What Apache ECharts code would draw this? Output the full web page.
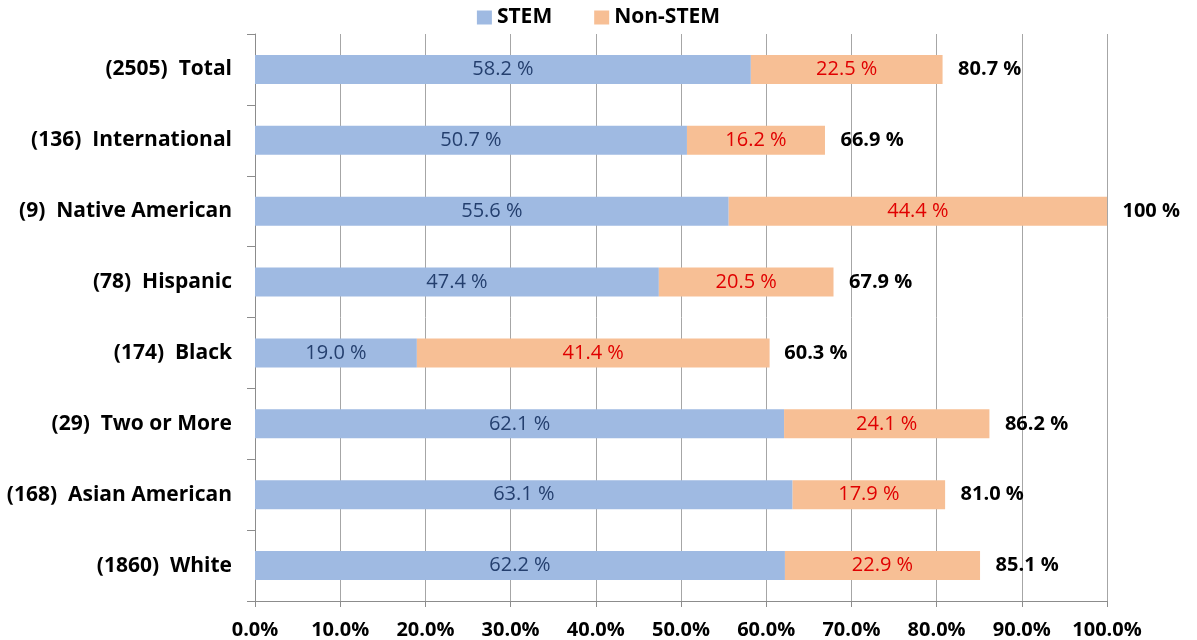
<!DOCTYPE html>
<html>
<head>
<meta charset="utf-8">
<script src="https://cdn.jsdelivr.net/npm/echarts@6/dist/echarts.min.js"></script>
<style>
  html, body { margin: 0; padding: 0; background: #fff; }
  #myChart { width: 1197px; height: 640px; }
</style>
</head>
<body>
<div id="myChart"></div>
<script>
// 类别（自上而下）
const categories = ['(2505)  Total', '(136)  International', '(9)  Native American', '(78)  Hispanic',
  '(174)  Black', '(29)  Two or More', '(168)  Asian American', '(1860)  White']
const stemValues = [58.2, 50.7, 55.6, 47.4, 19.0, 62.1, 63.1, 62.2]
const nonStemValues = [22.5, 16.2, 44.4, 20.5, 41.4, 24.1, 17.9, 22.9]
const totalLabels = ['80.7 %', '66.9 %', '100 %', '67.9 %', '60.3 %', '86.2 %', '81.0 %', '85.1 %']
const totalValues = [80.7, 66.9, 100, 67.9, 60.3, 86.2, 81.0, 85.1]

const fontFamily = '"Open Sans", "Liberation Sans", sans-serif'

const myChart = echarts.init(document.getElementById('myChart'))

const option = {
  animation: false,
  textStyle: { fontFamily: fontFamily },
  legend: {
    data: ['STEM', 'Non-STEM'],
    top: 2,
    left: 'center',
    itemWidth: 15,
    itemHeight: 14,
    itemGap: 42,
    icon: 'rect',
    textStyle: { fontSize: 21, fontWeight: 'bold', color: '#000', fontFamily: fontFamily }
  },
  grid: {
    left: 255,
    right: 90,
    top: 34,
    bottom: 38,
    containLabel: false
  },
  xAxis: {
    type: 'value',
    min: 0,
    max: 100,
    interval: 10,
    axisLine: { show: true, lineStyle: { color: '#8c8c8c' } },
    axisTick: { show: true, length: 6, lineStyle: { color: '#8c8c8c' } },
    splitLine: { show: true, lineStyle: { color: '#a6a6a6', width: 1 } },
    axisLabel: {
      formatter: v => v.toFixed(1) + '%',
      color: '#000',
      fontSize: 20,
      fontWeight: 'bold',
      margin: 19,
      fontFamily: fontFamily
    }
  },
  yAxis: {
    type: 'category',
    inverse: true,
    data: categories,
    axisLine: { show: true, lineStyle: { color: '#8c8c8c' } },
    axisTick: { show: true, length: 8, lineStyle: { color: '#8c8c8c' } },
    axisLabel: {
      color: '#000',
      fontSize: 21,
      fontWeight: 'bold',
      margin: 23,
      fontFamily: fontFamily
    }
  },
  series: [
    {
      name: 'STEM',
      type: 'bar',
      stack: 'total',
      barWidth: 29,
      data: stemValues,
      itemStyle: { color: '#9fbae2' },
      label: {
        show: true,
        position: 'inside',
        formatter: p => p.value.toFixed(1) + ' %',
        color: '#243f6e',
        fontSize: 20,
        fontFamily: fontFamily
      }
    },
    {
      name: 'Non-STEM',
      type: 'bar',
      stack: 'total',
      barWidth: 29,
      data: nonStemValues,
      itemStyle: { color: '#f7bf95' },
      label: {
        show: true,
        position: 'inside',
        formatter: p => p.value.toFixed(1) + ' %',
        color: '#e00000',
        fontSize: 20,
        fontFamily: fontFamily
      }
    },
    {
      name: 'totals',
      type: 'scatter',
      symbolSize: 1,
      itemStyle: { color: '#000', opacity: 0 },
      data: totalValues.map((v, i) => [v, i]),
      label: {
        show: true,
        position: 'right',
        distance: 15,
        formatter: p => totalLabels[p.dataIndex],
        color: '#000',
        opacity: 1,
        fontSize: 20,
        fontWeight: 'bold',
        fontFamily: fontFamily
      },
      silent: true
    }
  ]
}
myChart.setOption(option)
</script>
</body>
</html>
